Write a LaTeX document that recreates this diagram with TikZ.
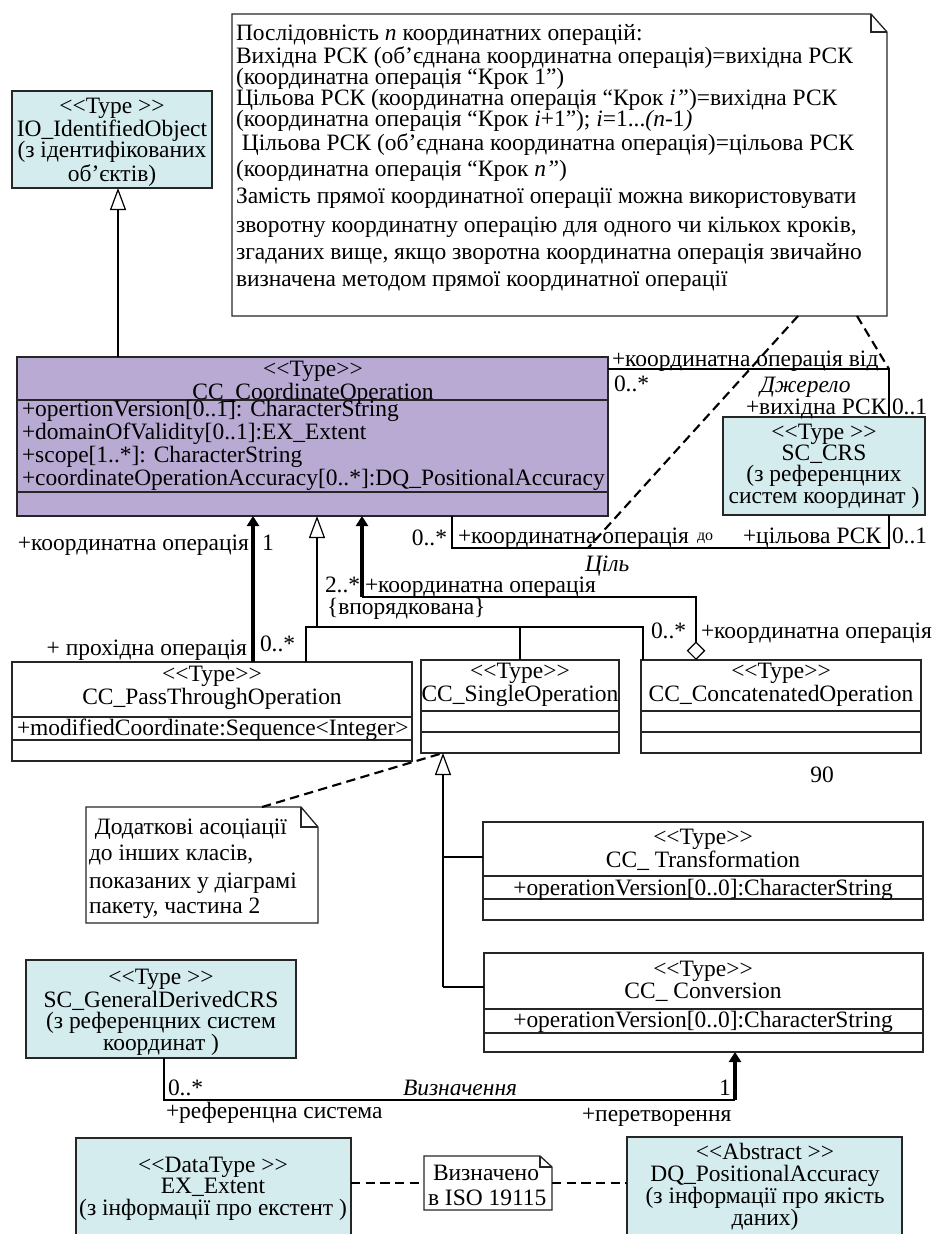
\documentclass[tikz,border=0pt]{standalone}
\usepackage{fontspec}
\setmainfont{Liberation Serif}[Ligatures=TeXOff]
\usepackage{tikz}
\usetikzlibrary{arrows.meta,calc,fit}
\definecolor{crsblue}{HTML}{D5ECEF}
\definecolor{opviolet}{HTML}{B9AAD3}
\newcommand{\stereo}[1]{<{}<#1>{}>}

\begin{document}
\begin{tikzpicture}[x=0.75pt,y=0.75pt,yscale=-1,xscale=1,
  every node/.style={font=\fontsize{17.6}{16}\selectfont, inner sep=0pt, outer sep=0pt},
  cls/.style={draw=black!85, line width=1pt},
  typecls/.style={cls, fill=crsblue},
  opcls/.style={cls, fill=opviolet},
  lbl/.style={anchor=base west},
  lblr/.style={anchor=base east},
  hdr/.style={anchor=base, align=center},
  inh/.style={line width=0.9pt, -{Triangle[open, length=16.5pt, width=12pt]}},
  nav/.style={line width=2.4pt, -{Triangle[length=7.5pt, width=9pt]}},
  link/.style={line width=0.9pt},
  notelink/.style={line width=1.6pt, dash pattern=on 7pt off 4pt}]
\useasboundingbox (0,0) rectangle (934,1234);
\clip (0,0) rectangle (934,1234);

%Classes
\node[typecls, fit={(12,91) (212,188)}] (io) {};
\node[opcls, fit={(17,357) (608,516)}] (cco) {};
\node[typecls, fit={(723,417) (925,515)}] (crs) {};
\node[cls, fit={(12,662) (412,761)}] (pto) {};
\node[cls, fit={(421,660) (619,753)}] (sop) {};
\node[cls, fit={(641,660) (921,753)}] (cat) {};
\node[cls, fit={(483,822) (923,920)}] (trf) {};
\node[cls, fit={(484,953) (923,1052)}] (cnv) {};
\node[typecls, fit={(26,960) (296,1058)}] (gdc) {};
\node[typecls, fit={(76,1138) (351,1244)}] (ext) {};
\node[typecls, fit={(627,1137) (902,1244)}] (dq) {};
%Compartments
\draw[cls] (cco.west |- 0,400) -- (cco.east |- 0,400);
\draw[cls] (cco.west |- 0,492) -- (cco.east |- 0,492);
\draw[cls] (pto.west |- 0,717) -- (pto.east |- 0,717);
\draw[cls] (pto.west |- 0,740) -- (pto.east |- 0,740);
\draw[cls] (sop.west |- 0,711) -- (sop.east |- 0,711);
\draw[cls] (sop.west |- 0,732) -- (sop.east |- 0,732);
\draw[cls] (cat.west |- 0,711) -- (cat.east |- 0,711);
\draw[cls] (cat.west |- 0,732) -- (cat.east |- 0,732);
\draw[cls] (trf.west |- 0,876) -- (trf.east |- 0,876);
\draw[cls] (trf.west |- 0,899) -- (trf.east |- 0,899);
\draw[cls] (cnv.west |- 0,1009) -- (cnv.east |- 0,1009);
\draw[cls] (cnv.west |- 0,1033) -- (cnv.east |- 0,1033);

%Notes
\node[fit={(232,14) (887,316)}] (note1) {};
\node[fit={(86,807) (318,923)}] (note2) {};
\node[fit={(424,1156) (552,1210)}] (note3) {};
\draw[cls, fill=white] (note1.north west) -- ($(note1.north east)+(-16,0)$) -- ($(note1.north east)+(0,18)$) -- (note1.south east) -- (note1.south west) -- cycle;
\draw[cls] ($(note1.north east)+(-16,0)$) |- ($(note1.north east)+(0,18)$);
\draw[cls, fill=white] (note2.north west) -- ($(note2.north east)+(-17,0)$) -- ($(note2.north east)+(0,20)$) -- (note2.south east) -- (note2.south west) -- cycle;
\draw[cls] ($(note2.north east)+(-17,0)$) |- ($(note2.north east)+(0,20)$);
\draw[cls, fill=white] (note3.north west) -- ($(note3.north east)+(-12,0)$) -- ($(note3.north east)+(0,11)$) -- (note3.south east) -- (note3.south west) -- cycle;
\draw[cls] ($(note3.north east)+(-12,0)$) |- ($(note3.north east)+(0,11)$);

%Generalisation to IO_IdentifiedObject
\coordinate (ioFoot) at ($(io.south)+(6,0)$);
\draw[inh] (ioFoot |- cco.north) -- (ioFoot);
%Generalisation bus
\coordinate (busT) at (317,627);
\coordinate (busL) at (306,627);
\coordinate (busR) at (643,627);
\draw[inh] (busT) -- (busT |- cco.south);
\draw[link] (busL |- pto.north) -- (busL) -- (busR) -- (busR |- cat.north);
\draw[link] (sop.north) -- (sop.north |- busL);
%Pass-through association
\coordinate (ptA) at (253,662);
\draw[nav] (ptA |- pto.north) -- (ptA |- cco.south);
%Concatenated aggregation
\coordinate (aggA) at (696,597);
\coordinate (aggB) at (362,597);
\draw[link, {Diamond[open, length=14pt, width=14pt]}-] (aggA |- cat.north) -- (aggA) -- (aggB);
\draw[nav] (aggB) -- (aggB |- cco.south);
%Source and target CRS
\coordinate (srcE) at (889,369);
\draw[link] (cco.east |- srcE) -- (srcE) -- (srcE |- crs.north);
\coordinate (tgtW) at (452,548);
\coordinate (tgtE) at (889,548);
\draw[link] (tgtW |- cco.south) -- (tgtW) -- (tgtE) -- (tgtE |- crs.south);
%Transformation / Conversion
\coordinate (gMid) at (443,857);
\coordinate (gBot) at (443,987);
\draw[inh] (gBot) -- (gBot |- sop.south);
\draw[link] (gMid) -- (gMid -| trf.west);
\draw[link] (gBot) -- (gBot -| cnv.west);
%Definition association
\coordinate (defW) at (164,1100);
\coordinate (defE) at (735,1100);
\draw[link] (defW |- gdc.south) -- (defW) -- (defE);
\draw[nav] (defE) -- (defE |- cnv.south);
%Note anchors
\coordinate (tgtNote) at (588,548);
\draw[notelink] ($(note1.south west)+(566,0)$) -- (tgtNote);
\draw[notelink] ($(note1.south west)+(625,0)$) -- (srcE);
\draw[notelink] ($(note2.north west)+(176,0)$) -- (gBot |- sop.south);
\draw[notelink] (note3.west -| ext.east) -- (note3.west);
\draw[notelink] (note3.east) -- (note3.east -| dq.west);

% Text Node (base = last line)
\node[hdr] (ioT) at (112,181) {\stereo{Type }\\IO\_IdentifiedObject\\(з ідентифікованих\\об’єктів)};
\node[hdr] (ccoT) at (313,399) {\stereo{Type}\\CC\_CoordinateOperation};
\node[lbl, align=left] (ccoA) at (22,485) {+opertionVersion[0..1]: CharacterString\\+domainOfValidity[0..1]:EX\_Extent\\+scope[1..*]: CharacterString\\+coordinateOperationAccuracy[0..*]:DQ\_PositionalAccuracy};
\node[hdr] (crsT) at (824,503) {\stereo{Type }\\SC\_CRS\\(з референцних\\систем координат )};
\node[hdr] (ptoT) at (212,704) {\stereo{Type}\\CC\_PassThroughOperation};
\node[lbl] (ptoA) at (17,735) {+modifiedCoordinate:Sequence<Integer>};
\node[hdr] (sopT) at (520,701) {\stereo{Type}\\CC\_SingleOperation};
\node[hdr] (catT) at (781,701) {\stereo{Type}\\CC\_ConcatenatedOperation};
\node[hdr] (trfT) at (703,867) {\stereo{Type}\\CC\_ Transformation};
\node[anchor=base] (trfA) at (703,895) {+operationVersion[0..0]:CharacterString};
\node[hdr] (cnvT) at (703,998) {\stereo{Type}\\CC\_ Conversion};
\node[anchor=base] (cnvA) at (703,1027) {+operationVersion[0..0]:CharacterString};
\node[hdr] (gdcT) at (161,1050) {\stereo{Type }\\SC\_GeneralDerivedCRS\\(з референцних систем\\координат )};
\node[hdr] (extT) at (213,1215) {\stereo{DataType }\\EX\_Extent\\(з інформації про екстент )};
\node[hdr] (dqT) at (765,1225) {\stereo{Abstract }\\DQ\_PositionalAccuracy\\(з інформації про якість\\даних)};

% Note texts
\foreach \yb/\ln [count=\i] in {
  41/{Послідовність \textit{n} координатних операцій:},
  64/{Вихідна РСК (об’єднана координатна операція)=вихідна РСК},
  85/{(координатна операція “Крок 1”)},
  106/{Цільова РСК (координатна операція “Крок \textit{i”})=вихідна РСК},
  127/{(координатна операція “Крок \textit{i}+1”); \textit{i}=1...\textit{(n}-1\textit{)}},
  151/{\ Цільова РСК (об’єднана координатна операція)=цільова РСК},
  176/{(координатна операція “Крок \textit{n”})},
  204/{Замість прямої координатної операції можна використовувати},
  232/{зворотну координатну операцію для одного чи кількох кроків,},
  259/{згаданих вище, якщо зворотна координатна операція звичайно},
  286/{визначена методом прямої координатної операції}}
  \node[lbl] (nl\i) at (236,\yb) {\ln};
\foreach \yb/\ln [count=\i] in {
  834/{\ Додаткові асоціації},
  860/{до інших класів,},
  888/{показаних у діаграмі},
  913/{пакету, частина 2}}
  \node[lbl] (nb\i) at (89,\yb) {\ln};
\node[lbl] (isoA) at (433,1180) {Визначено};
\node[lbl] (isoB) at (428,1205) {в ISO 19115};

% Role and multiplicity labels
\node[lbl] (srcRole) at (612,366) {+координатна операція від};
\node[lbl] (srcMult) at (614,391) {0..*};
\node[lbl, font=\fontsize{17.6}{16}\selectfont\itshape] (srcName) at (760,392) {Джерело};
\node[lbl] (srcCrs) at (746,414) {+вихідна РСК};
\node[lbl] (srcCrsM) at (892,414) {0..1};
\node[lblr] (tgtMult) at (447,545) {0..*};
\node[lbl] (tgtRole) at (458,543) {+координатна операція};
\node[lbl, font=\fontsize{12}{12}\selectfont] (tgtTo) at (697,540) {до};
\node[lbl] (tgtCrs) at (743,543) {+цільова РСК};
\node[lbl] (tgtCrsM) at (892,543) {0..1};
\node[lbl, font=\fontsize{17.6}{16}\selectfont\itshape] (tgtName) at (585,571) {Ціль};
\node[lblr] (ptRole) at (249,550) {+координатна операція};
\node[lbl] (ptMult) at (262,550) {1};
\node[lblr] (ptRole2) at (247,655) {+ прохідна операція};
\node[lbl] (ptMult2) at (260,651) {0..*};
\node[lbl] (aggMult) at (325,592) {2..*};
\node[lbl] (aggRole) at (365,592) {+координатна операція};
\node[lbl] (aggOrd) at (327,614) {\{впорядкована\}};
\node[lbl] (catMult) at (651,638) {0..*};
\node[lbl] (catRole) at (701,638) {+координатна операція};
\node[anchor=base] (pgNo) at (822,782) {90};
\node[lbl] (defMult) at (168,1095) {0..*};
\node[lbl, font=\fontsize{17.6}{16}\selectfont\itshape] (defName) at (403,1095) {Визначення};
\node[anchor=base] (defOne) at (725,1095) {1};
\node[lbl] (defRole) at (166,1118) {+референцна система};
\node[lbl] (defRole2) at (582,1121) {+перетворення};
\end{tikzpicture}
\end{document}
